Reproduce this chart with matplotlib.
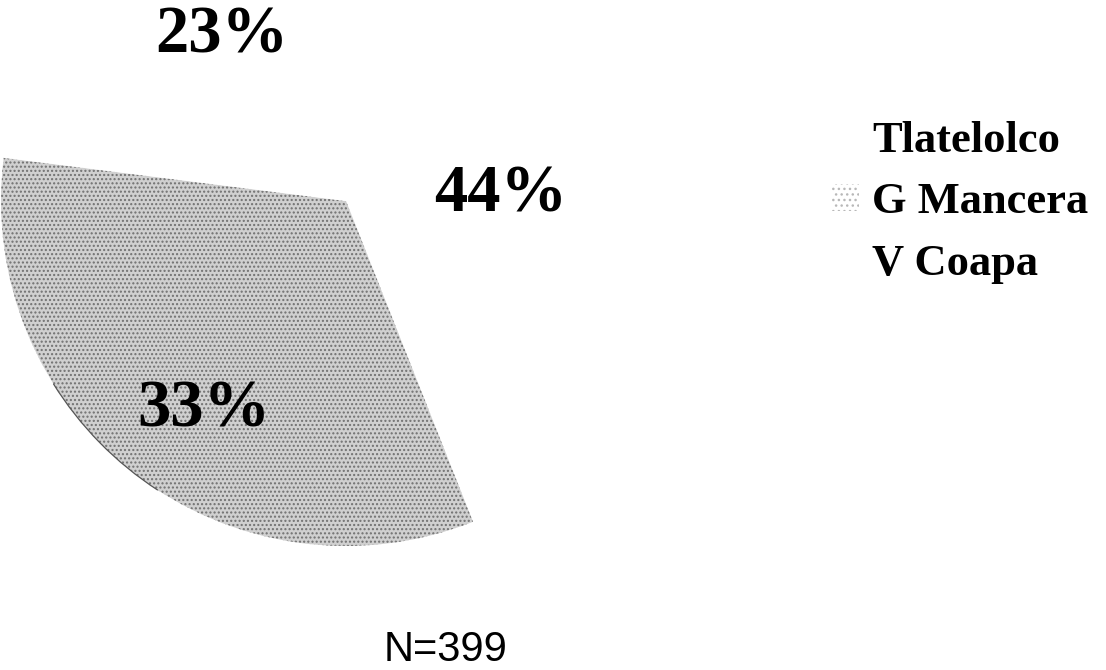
import numpy as np
import matplotlib.pyplot as plt
from matplotlib.patches import Arc, Patch

# ---------------------- Data ----------------------
sites = ["Tlatelolco", "G Mancera", "V Coapa"]
shares = [44, 33, 23]          # percent of patients per site
n_total = 399

# ---------------------- Styles ----------------------
fills = ["white", "#d0d0d0", "white"]
hatches = [None, "....", None]
label_dist = [0.45, 0.72, 0.61]      # radial position of each % label
label_shift = [-6.8, 3.0, -5.3]      # small angular nudge (deg)

serif_bold = dict(family="Liberation Serif", weight="bold")

fig = plt.figure(figsize=(11.06, 6.70), dpi=100)
# square axes, pie runs off the top of the page
ax = fig.add_axes([1 / 1106, 124 / 670, 690 / 1106, 690 / 670])

wedges, texts, pct_texts = ax.pie(
    shares, colors=fills, startangle=90, counterclock=False,
    autopct="%1.0f%%",
    wedgeprops=dict(linewidth=0, edgecolor="#707070"),
    textprops=dict(fontsize=48, color="black", **serif_bold),
)
ax.set_xlim(-1, 1)
ax.set_ylim(-1, 1)

for w, h in zip(wedges, hatches):
    if h:
        w.set_hatch(h)

# move the percentage labels
for w, t, d, s in zip(wedges, pct_texts, label_dist, label_shift):
    mid = np.deg2rad((w.theta1 + w.theta2) / 2 + s)
    t.set_position((d * np.cos(mid), d * np.sin(mid) - 0.015))
    t.set_ha("center")
    t.set_va("center")

# faint piece of the outline on the gray slice
g = wedges[1]
span = g.theta2 - g.theta1
ax.add_patch(Arc((0, 0), 2, 2, theta1=g.theta1 + 0.33 * span,
                 theta2=g.theta1 + 0.54 * span, color="#555555", lw=0.9))

# legend keys are much paler than the slices
handles = [Patch(facecolor="white", edgecolor="white", lw=0),
           Patch(facecolor="white", edgecolor="#b8b8b8", hatch="...", lw=0),
           Patch(facecolor="white", edgecolor="white", lw=0)]
leg = ax.legend(handles, sites, loc="upper left", frameon=False,
                bbox_to_anchor=(832 / 1106, 1 - 121 / 670),
                bbox_transform=fig.transFigure,
                prop=dict(size=32, **serif_bold),
                handlelength=0.6, handleheight=0.55, handletextpad=0.3,
                labelspacing=0.48, borderpad=0, borderaxespad=0)

fig.text(446 / 1106, 1 - 661 / 670, f"N={n_total}", ha="center",
         va="baseline", fontsize=30, family="Liberation Sans")

fig.savefig("out.png", dpi=100)
